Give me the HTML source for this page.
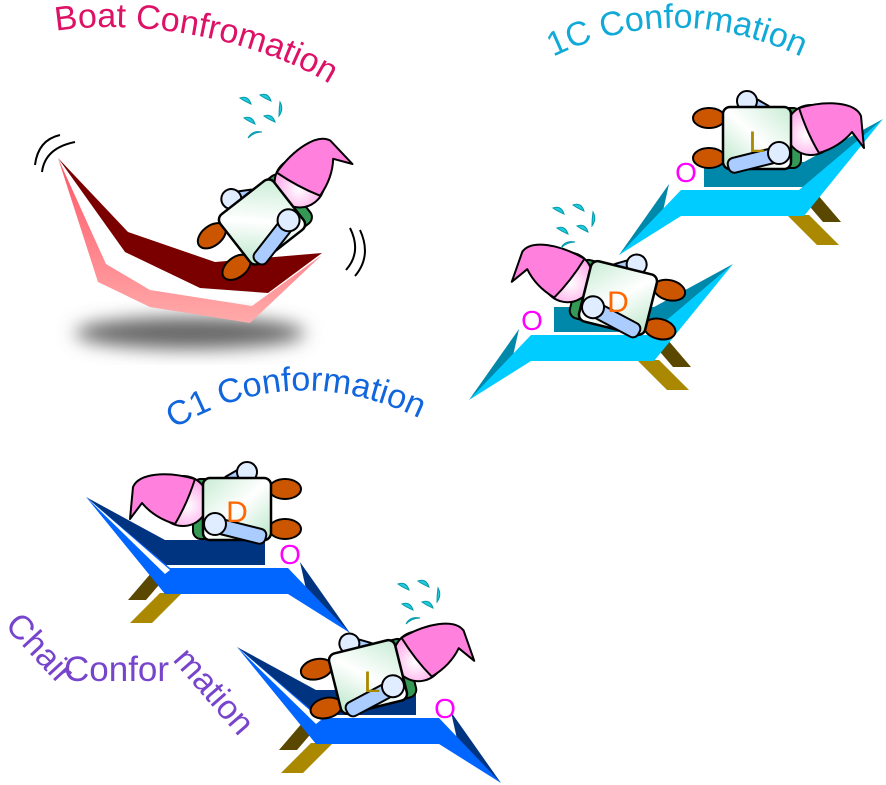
<!DOCTYPE html>
<html><head><meta charset="utf-8"><style>html,body{margin:0;padding:0;background:#fff}svg{display:block}</style></head>
<body>
<svg width="886" height="785" viewBox="0 0 886 785" xmlns="http://www.w3.org/2000/svg" font-family="Liberation Sans, sans-serif">
<defs>
<linearGradient id="bodyg" x1="0" y1="0" x2="1" y2="1"><stop offset="0" stop-color="#c8ecd4"/><stop offset="0.5" stop-color="#ffffff"/><stop offset="1" stop-color="#b8e6c8"/></linearGradient>
<radialGradient id="headg" cx="0.6" cy="0.6" r="0.6"><stop offset="0" stop-color="#ffffff"/><stop offset="1" stop-color="#ff99e6"/></radialGradient>
<linearGradient id="pinkg" x1="0" y1="0" x2="0" y2="1"><stop offset="0" stop-color="#ff5566"/><stop offset="1" stop-color="#ffaaaa"/></linearGradient>
<filter id="blur" x="-50%" y="-50%" width="200%" height="200%"><feGaussianBlur stdDeviation="9"/></filter>
<g id="ch">
  <ellipse cx="48" cy="-20" rx="16" ry="10" fill="#cc5500" stroke="#000" stroke-width="2"/>
  <ellipse cx="48" cy="20" rx="16" ry="10" fill="#cc5500" stroke="#000" stroke-width="2"/>
  <rect x="-14" y="-38" width="26" height="10" rx="4" fill="#aaccff" stroke="#000" stroke-width="2" transform="rotate(-30 0 -33)"/>
  <circle cx="10" cy="-37" r="10" fill="#e0ecff" stroke="#000" stroke-width="2"/>
  <rect x="-44" y="-30" width="20" height="60" rx="8" fill="#339955" stroke="#000" stroke-width="2"/>
  <circle cx="-54" cy="-8" r="25" fill="url(#headg)" stroke="#000" stroke-width="2"/>
  <path d="M-42,-30 C-70,-38 -98,-36 -104,-22 L-107,10 L-95,-6 C-85,6 -72,12 -62,15 Q-50,-5 -42,-30 Z" fill="#ff80dd" stroke="#000" stroke-width="2" stroke-linejoin="round"/>
  <rect x="-34" y="-31" width="68" height="62" rx="7" fill="url(#bodyg)" stroke="#000" stroke-width="2.5"/>
  <rect x="-20" y="14" width="50" height="15" rx="6" fill="#aaccff" stroke="#000" stroke-width="2" transform="rotate(14 0 20)"/>
  <circle cx="-22" cy="15" r="11" fill="#e0ecff" stroke="#000" stroke-width="2"/>
</g>
<g id="chairC1">
  <polygon points="130,623 152,623 182,593 160,593" fill="#aa8800"/>
  <polygon points="128,600 146,600 170,572 152,572" fill="#5a4800"/>
  <polygon points="86,497 165,540 265,540 265,565 165,565" fill="#003380"/>
  <polygon points="300,562 350,633 308,598" fill="#003380"/>
  <polygon points="86,497 170,568 288,568 350,633 288,594 165,594" fill="#0066ff"/>
  <polygon points="86,497 170,570 165,574" fill="#fff"/>
</g>
<g id="chair1C">
  <polygon points="130,623 152,623 182,593 160,593" fill="#aa8800"/>
  <polygon points="128,600 146,600 170,572 152,572" fill="#5a4800"/>
  <polygon points="86,497 165,540 265,540 265,565 165,565" fill="#0088aa"/>
  <polygon points="300,562 350,633 308,598" fill="#0088aa"/>
  <polygon points="86,497 170,568 288,568 350,633 288,594 165,594" fill="#00ccff"/>
</g>
<g id="drops" fill="#22ccdd" stroke="#0099aa" stroke-width="1">
  <path d="M0,0 q8,-3 11,6 q-7,-3 -11,-6z"/>
  <path d="M20,-3 q8,-3 11,6 q-7,-3 -11,-6z"/>
  <path d="M40,4 q4,7 -1,14 q0,-7 1,-14z"/>
  <path d="M4,20 q8,-3 11,6 q-7,-3 -11,-6z"/>
  <path d="M24,18 q8,-3 11,6 q-7,-3 -11,-6z"/>
  <path d="M8,40 q4,-8 14,-6 q-8,0 -14,6z"/>
</g>
</defs>

<!-- Boat -->
<ellipse cx="190" cy="333" rx="115" ry="16" fill="#666" filter="url(#blur)"/>
<path d="M58,158 L98,282 L150,307 L250,323 L322,255 L252,306 L150,290 L106,264 Z" fill="url(#pinkg)"/>
<path d="M58,158 L128,232 L215,262 L322,253 L268,293 L200,288 L125,252 Z" fill="#7a0000"/>
<g fill="none" stroke="#000" stroke-width="2">
<path d="M35,165 Q38,140 60,135"/><path d="M42,172 Q45,148 75,142"/>
<path d="M350,228 Q362,252 346,270"/><path d="M360,230 Q372,256 355,276"/>
</g>
<use href="#ch" transform="translate(262,222) rotate(142) scale(1,-1)"/>
<use href="#drops" transform="translate(240,98)"/>

<!-- 1C chairs -->
<use href="#chair1C" transform="translate(969,-378) scale(-1,1)"/>
<use href="#ch" transform="translate(757,138) scale(-1,1)"/>
<text x="757" y="152" font-size="30" fill="#aa8800" text-anchor="middle">L</text>
<text x="686" y="182" font-size="28" fill="#ff00ff" text-anchor="middle">O</text>

<use href="#chair1C" transform="translate(819,-233) scale(-1,1)"/>
<text x="532" y="330" font-size="28" fill="#ff00ff" text-anchor="middle">O</text>
<use href="#ch" transform="translate(618,298) rotate(14)"/>
<text x="618" y="312" font-size="30" fill="#ff6600" text-anchor="middle">D</text>
<use href="#drops" transform="translate(553,208)"/>

<!-- C1 chairs -->
<use href="#chairC1"/>
<use href="#ch" transform="translate(237,509)"/>
<text x="237" y="522" font-size="30" fill="#ff6600" text-anchor="middle">D</text>
<text x="290" y="564" font-size="28" fill="#ff00ff" text-anchor="middle">O</text>

<use href="#chairC1" transform="translate(151,150)"/>
<text x="445" y="718" font-size="28" fill="#ff00ff" text-anchor="middle">O</text>
<use href="#ch" transform="translate(368,677) rotate(-14) scale(-1,1)"/>
<text x="372" y="692" font-size="30" fill="#aa8800" text-anchor="middle">L</text>
<use href="#drops" transform="translate(398,584)"/>

<!-- Labels -->
<path id="pBoat" d="M56,31 C150,16 285,45 352,100" fill="none"/>
<text font-size="34" fill="#dd1166"><textPath href="#pBoat">Boat Confromation</textPath></text>
<path id="p1C" d="M553,57 Q680,-4 812,62" fill="none"/>
<text font-size="34" fill="#11aad8"><textPath href="#p1C">1C Conformation</textPath></text>
<path id="pC1" d="M174,429 Q305,350 447,433" fill="none"/>
<text font-size="34" fill="#1166dd"><textPath href="#pC1">C1 Conformation</textPath></text>
<path id="pCh1" d="M4,626 L80,708" fill="none"/>
<text font-size="34" fill="#7744cc"><textPath href="#pCh1">Chair</textPath></text>
<text x="64" y="681" font-size="35" fill="#7744cc">Confor</text>
<path id="pCh2" d="M172,660 L252,752" fill="none"/>
<text font-size="34" fill="#7744cc"><textPath href="#pCh2">mation</textPath></text>
</svg>
</body></html>
